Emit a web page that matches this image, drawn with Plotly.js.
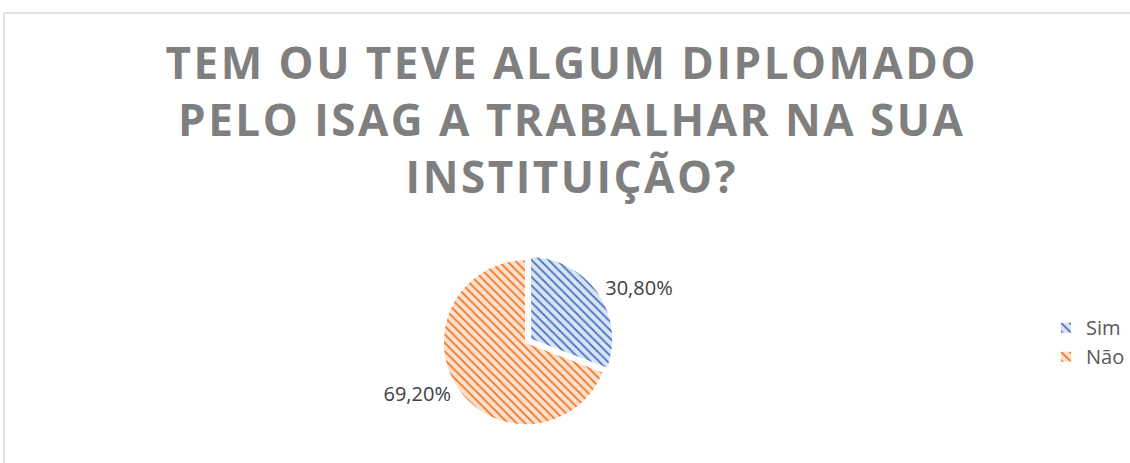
<!DOCTYPE html>
<html>
<head>
<meta charset="utf-8">
<script src="https://cdn.plot.ly/plotly-3.0.1.min.js"></script>
<style>
html,body{margin:0;padding:0;background:#fff;}
#chart{width:1130px;height:463px;}
.gtitle{letter-spacing:2.5px;}
</style>
</head>
<body>
<div id="chart"></div>
<script>
const titleText = "TEM OU TEVE ALGUM DIPLOMADO<br>PELO ISAG A TRABALHAR NA SUA<br>INSTITUIÇÃO?";
const categories = ["Sim", "Não"];
const values = [30.8, 69.2];
const lineColors = ["#3f6cc0", "#ee7420"];
const fillColors = ["#d9e3f5", "#fde0cb"];
const pulls = [0.06, 0];

const trace = {
  type: "pie",
  labels: categories,
  values: values,
  sort: false,
  direction: "clockwise",
  rotation: 0,
  pull: pulls,
  textposition: "outside",
  texttemplate: "%{percent:.2%}",
  textfont: {family: "Open Sans, sans-serif", size: 20, color: "#404040"},
  marker: {
    colors: fillColors,
    line: {color: "#ffffff", width: 2},
    pattern: {shape: "\\", fgcolor: lineColors, bgcolor: fillColors, fgopacity: 1, size: 6, solidity: 0.28, fillmode: "overlay"}
  },
  domain: {x: [0.3876, 0.5434], y: [0.071, 0.451]},
  hoverinfo: "label+percent",
  showlegend: true
};

const layout = {
  width: 1130,
  height: 463,
  margin: {l: 0, r: 0, t: 0, b: 0},
  paper_bgcolor: "#ffffff",
  separators: ",.",
  title: {
    text: titleText,
    font: {family: "Open Sans, sans-serif", size: 44, color: "#7f7f7f", weight: 700},
    x: 0.506, xanchor: "center",
    y: 0.83, yanchor: "top"
  },
  legend: {
    x: 0.926, xanchor: "left",
    y: 0.261, yanchor: "middle",
    font: {family: "Open Sans, sans-serif", size: 20, color: "#595959"},
    bgcolor: "rgba(0,0,0,0)"
  },
  shapes: [
    {type: "line", xref: "paper", yref: "paper", x0: 4/1130, x1: 1, y0: 1 - 13/463, y1: 1 - 13/463, line: {color: "#d9d9d9", width: 1.5}},
    {type: "line", xref: "paper", yref: "paper", x0: 4/1130, x1: 4/1130, y0: 0, y1: 1 - 13/463, line: {color: "#d9d9d9", width: 1.5}}
  ]
};

Plotly.newPlot("chart", [trace], layout, {displayModeBar: false, staticPlot: true});
</script>
</body>
</html>
